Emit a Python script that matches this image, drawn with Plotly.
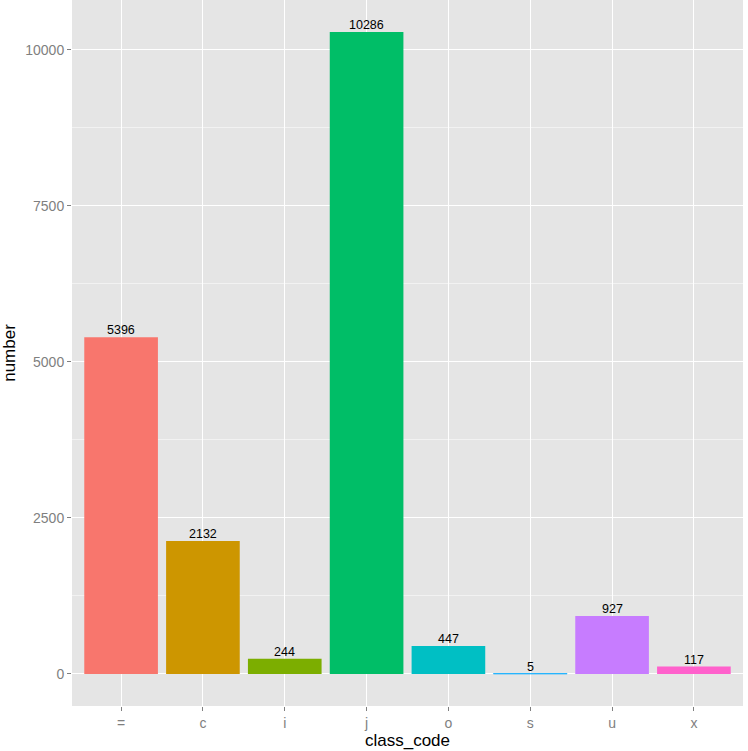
import plotly.graph_objects as go

categories = ["=", "c", "i", "j", "o", "s", "u", "x"]
values = [5396, 2132, 244, 10286, 447, 5, 927, 117]
colors = ["#F8766D", "#CD9600", "#7CAE00", "#00BE67", "#00BFC4", "#00A9FF", "#C77CFF", "#FF61CC"]
y_ticks = [0, 2500, 5000, 7500, 10000]

fig = go.Figure(go.Bar(
    x=categories, y=values, marker_color=colors,
    marker_line=dict(color=colors, width=[0, 0, 0, 0, 0, 0.6, 0, 0]),
    width=0.9,
))

for c, v in zip(categories, values):
    fig.add_annotation(x=c, y=v, text=str(v), showarrow=False, yanchor="bottom",
                       yshift=-2, font=dict(color="black", size=12.5, family="Liberation Sans, Arial"))

vmax = max(values)
fig.update_layout(
    width=748, height=751,
    margin=dict(l=72, r=5, t=0, b=45, autoexpand=False),
    paper_bgcolor="white", plot_bgcolor="#E5E5E5",
    showlegend=False, bargap=0.1,
    font=dict(family="Liberation Sans, Arial", color="#7F7F7F", size=14),
    xaxis=dict(
        title=dict(text="class_code", font=dict(color="black", size=17), standoff=0),
        type="category", range=[-0.6, 7.6], automargin=False,
        showgrid=True, gridcolor="white", gridwidth=1.2,
        ticks="outside", ticklen=4, tickcolor="#7F7F7F", tickwidth=1,
        tickfont=dict(size=14, color="#7F7F7F"), zeroline=False, showline=False,
    ),
    yaxis=dict(
        title=dict(text="number", font=dict(color="black", size=17), standoff=6),
        range=[-0.05 * vmax, 1.05 * vmax], automargin=False,
        tickvals=y_ticks, ticktext=[str(t) for t in y_ticks],
        showgrid=True, gridcolor="white", gridwidth=1.2,
        minor=dict(tickvals=[1250, 3750, 6250, 8750], showgrid=True, gridcolor="#F2F2F2", gridwidth=0.6, ticks=""),
        ticks="outside", ticklen=4, tickcolor="#7F7F7F", tickwidth=1,
        tickfont=dict(size=14, color="#7F7F7F"), zeroline=False, showline=False,
    ),
)
fig.write_html("out.html", config={"displayModeBar": False},
               post_script="document.body.style.margin='0';document.body.style.overflow='hidden';")
